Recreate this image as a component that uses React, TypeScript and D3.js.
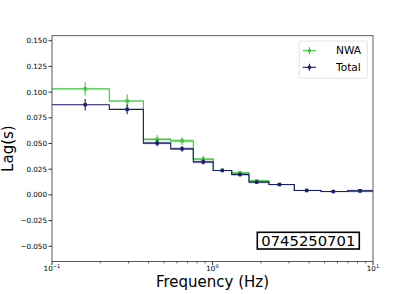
import React from 'react';
import * as d3 from 'd3';

// bin edges (Hz) of the step curves
const binEdges = [0.1, 0.2275, 0.371, 0.549, 0.759, 1.01, 1.317, 1.688, 2.249, 3.234, 4.74, 6.95, 10];
// bin centres where the points sit
const pointFreq = [0.161, 0.294, 0.452, 0.646, 0.876, 1.151, 1.483, 1.885, 2.61, 3.86, 5.66, 8.3];

const nwaLag = [0.1032, 0.0913, 0.054, 0.0526, 0.0348, 0.0238, 0.0214, 0.0136, 0.0101, 0.0043, 0.0033, 0.0039];
const nwaErr = [0.0064, 0.0065, 0.004, 0.0038, 0.0032, 0.002, 0.002, 0.0018, 0.0015, 0.0013, 0.0013, 0.0013];
const nwaBand = [0.0002, 0.0008, 0.001, 0.0015, 0.0012, 0.0005, 0.0012, 0.001, 0.0005, 0.0003, 0.0003, 0.0003];

const totLag = [0.0877, 0.0832, 0.0504, 0.0448, 0.0321, 0.0238, 0.0198, 0.0124, 0.0101, 0.0043, 0.0033, 0.0039];
const totErr = [0.0055, 0.0048, 0.003, 0.0028, 0.0026, 0.0016, 0.0018, 0.0016, 0.0013, 0.0012, 0.0012, 0.0012];
const totBand = [0.0003, 0.0005, 0.0012, 0.0012, 0.0012, 0.0004, 0.0012, 0.001, 0.0006, 0.0006, 0.0006, 0.0012];

const yTicks = [0.15, 0.125, 0.1, 0.075, 0.05, 0.025, 0, -0.025, -0.05];
const xMajor = [0.1, 1, 10];
const xMajorExp = ['-1', '0', '1'];
const obsId = '0745250701';

const green = '#3cc83c';
const navy = '#1c1c72';
const font = 'DejaVu Sans, sans-serif';

const W = 415, H = 294;
const left = 52, right = 373, top = 35.7, bottom = 261.5;

const x = d3.scaleLog().domain([0.1, 10]).range([left, right]);
const y = d3.scaleLinear().domain([-0.0648, 0.1549]).range([bottom, top]);

type Series = { name: string; lag: number[]; err: number[]; band: number[]; color: string };
const series: Series[] = [
  { name: 'NWA', lag: nwaLag, err: nwaErr, band: nwaBand, color: green },
  { name: 'Total', lag: totLag, err: totErr, band: totBand, color: navy },
];

const stepLine = (vals: number[]) => {
  const pts: [number, number][] = [];
  vals.forEach((v, i) => {
    pts.push([x(binEdges[i]), y(v)]);
    pts.push([x(binEdges[i + 1]), y(v)]);
  });
  return d3.line()(pts) as string;
};

const stepBand = (vals: number[], band: number[]) => {
  const pts: { x: number; lo: number; hi: number }[] = [];
  vals.forEach((v, i) => {
    pts.push({ x: x(binEdges[i]), lo: y(v - band[i]), hi: y(v + band[i]) });
    pts.push({ x: x(binEdges[i + 1]), lo: y(v - band[i]), hi: y(v + band[i]) });
  });
  return d3.area<{ x: number; lo: number; hi: number }>().x((d) => d.x).y0((d) => d.lo).y1((d) => d.hi)(pts) as string;
};

const minorTicks: number[] = [];
[0.1, 1].forEach((base) => {
  for (let k = 2; k <= 9; k++) minorTicks.push(base * k);
});

export default function App() {
  return (
    <div style={{ position: 'fixed', left: 0, top: 0 }}>
      <svg width={W} height={H} style={{ display: 'block', background: '#fff' }}>
        <defs>
          <clipPath id="plot">
            <rect x={left} y={top} width={right - left} height={bottom - top} />
          </clipPath>
        </defs>

        <g clipPath="url(#plot)">
          {series.map((s) => (
            <g key={s.name}>
              <path d={stepBand(s.lag, s.band)} fill={s.color} opacity={0.35} />
              <path d={stepLine(s.lag)} fill="none" stroke={s.color} strokeWidth={1.1} />
              {pointFreq.map((f, i) => (
                <g key={i}>
                  <line x1={x(f)} x2={x(f)} y1={y(s.lag[i] - s.err[i])} y2={y(s.lag[i] + s.err[i])} stroke={s.color} strokeWidth={1.1} />
                  <rect x={x(f) - 1.7} y={y(s.lag[i]) - 1.7} width={3.4} height={3.4} fill={s.color} />
                </g>
              ))}
            </g>
          ))}
        </g>

        {/* frame */}
        <rect x={left} y={top} width={right - left} height={bottom - top} fill="none" stroke="#333" strokeWidth={0.8} />

        {/* y axis */}
        {yTicks.map((t) => (
          <g key={t}>
            <line x1={left - 3.5} x2={left} y1={y(t)} y2={y(t)} stroke="#000" strokeWidth={0.8} />
            <text x={left - 5} y={y(t)} dy="0.35em" textAnchor="end" fontFamily={font} fontSize={7.2}>
              {t < 0 ? '\u2212' + Math.abs(t).toFixed(3) : t.toFixed(3)}
            </text>
          </g>
        ))}

        {/* x axis */}
        {xMajor.map((t, i) => (
          <g key={t}>
            <line x1={x(t)} x2={x(t)} y1={bottom} y2={bottom + 3.5} stroke="#000" strokeWidth={0.8} />
            <text x={x(t)} y={270.7} textAnchor="middle" fontFamily={font} fontSize={7.2}>
              10<tspan dy={-3} fontSize={5.2}>{xMajorExp[i].replace('-', '\u2212')}</tspan>
            </text>
          </g>
        ))}
        {minorTicks.map((t) => (
          <line key={t} x1={x(t)} x2={x(t)} y1={bottom} y2={bottom + 2} stroke="#000" strokeWidth={0.6} />
        ))}

        <text x={(left + right) / 2} y={286.5} textAnchor="middle" fontFamily={font} fontSize={15}>
          Frequency (Hz)
        </text>
        <text transform={`translate(13, ${(top + bottom) / 2}) rotate(-90)`} textAnchor="middle" fontFamily={font} fontSize={15}>
          Lag(s)
        </text>

        {/* legend */}
        <rect x={299.3} y={41} width={68} height={37.3} rx={2} fill="#fff" stroke="#ddd" strokeWidth={0.8} />
        {series.map((s, i) => {
          const ly = 50.7 + i * 16.6;
          return (
            <g key={s.name}>
              <line x1={302.7} x2={316} y1={ly} y2={ly} stroke={s.color} strokeWidth={1.1} />
              <line x1={309.4} x2={309.4} y1={ly - 3.5} y2={ly + 3.5} stroke={s.color} strokeWidth={1.1} />
              <rect x={309.4 - 1.5} y={ly - 1.5} width={3} height={3} fill={s.color} />
              <text x={336} y={ly} dy="0.35em" fontFamily={font} fontSize={10.6}>
                {s.name}
              </text>
            </g>
          );
        })}

        {/* observation id box */}
        <rect x={257.3} y={232.3} width={102} height={16.7} fill="#fff" stroke="#000" strokeWidth={1.6} />
        <text x={308.3} y={240.7} dy="0.36em" textAnchor="middle" fontFamily={font} fontSize={14.8}>
          {obsId}
        </text>
      </svg>
    </div>
  );
}
